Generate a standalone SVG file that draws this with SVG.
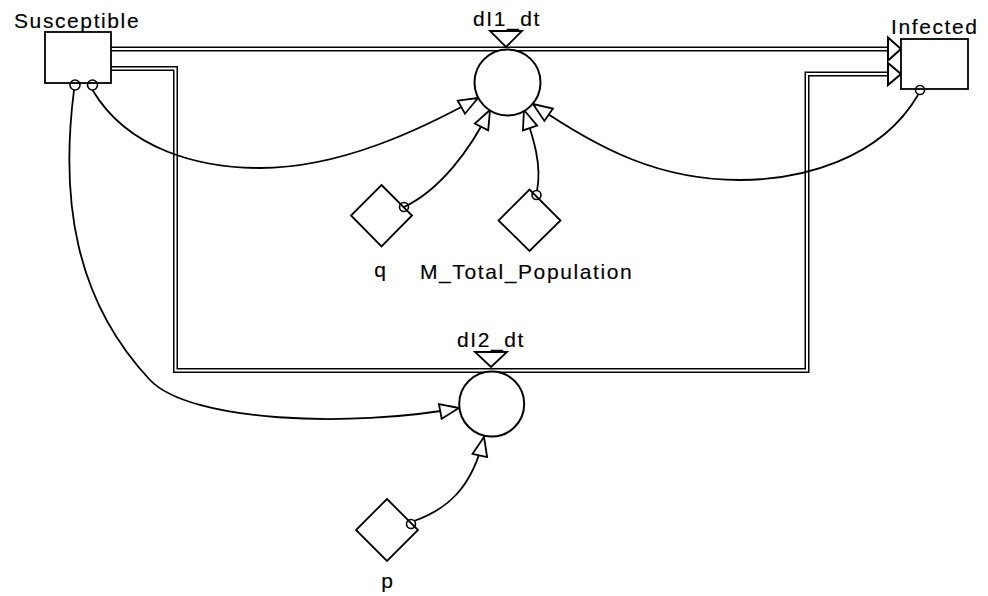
<svg xmlns="http://www.w3.org/2000/svg" width="988" height="596" viewBox="0 0 988 596">
  <defs>
    <style>
      text { font-family: "Liberation Sans", Arial, sans-serif; font-size: 21px; letter-spacing: 1.6px; fill: #000; stroke: #000; stroke-width: 0.15; }
      .box { fill: #fff; stroke: #000; stroke-width: 1.8; }
      .valve { fill: #fff; stroke: #000; stroke-width: 2; }
      .aux { fill: #fff; stroke: #000; stroke-width: 1.8; }
      .pipe-out { fill: none; stroke: #000; stroke-width: 5; stroke-linejoin: miter; }
      .pipe-in { fill: none; stroke: #fff; stroke-width: 2; stroke-linejoin: miter; }
      .pipe-head { fill: #fff; stroke: #000; stroke-width: 2; stroke-linejoin: miter; }
      .link { fill: none; stroke: #000; stroke-width: 1.8; marker-end: url(#open-arrow); }
      .tap { fill: none; stroke: #000; stroke-width: 1.6; }
    </style>
    <marker id="open-arrow" markerUnits="userSpaceOnUse" markerWidth="26" markerHeight="20" viewBox="-22 -10 24 20" refX="0" refY="0" orient="auto">
      <path d="M0,0 L-19,-7.5 L-19,7.5 Z" fill="#fff" stroke="#000" stroke-width="1.8" stroke-linejoin="miter"/>
    </marker>
  </defs>

  <!-- flow pipes -->
  <g id="flows">
    <path class="pipe-out" d="M111,49 H889"/>
    <path class="pipe-in" d="M111,49 H889"/>
    <path class="pipe-out" d="M111,68.5 H175.5 V370.5 H807 V74 H889"/>
    <path class="pipe-in" d="M111,68.5 H175.5 V370.5 H807 V74 H889"/>
    <polygon class="pipe-head" points="888,37.5 901,49 888,60.5"/>
    <polygon class="pipe-head" points="888,63 901,74 888,85"/>
  </g>

  <!-- information links -->
  <g id="connectors">
    <path class="link" d="M92.5,90 C128,150 200,168 260,168 C340,168 420,130 478,98"/>
    <path class="link" d="M74,90 C60,200 75,300 150,380 C190,422 350,428 459,408"/>
    <path class="link" d="M404,207 C440,190 470,150 490,110"/>
    <path class="link" d="M537,191 C542,165 534,140 524,110"/>
    <path class="link" d="M918,95 C880,160 800,180 740,180 C660,180 600,150 533,104"/>
    <path class="link" d="M414,521 C445,510 472,490 484,437"/>
  </g>

  <g id="Susceptible">
    <rect class="box" x="45" y="32" width="66" height="51"/>
    <circle class="tap" cx="75" cy="85" r="5"/>
    <circle class="tap" cx="92.5" cy="85" r="5"/>
    <text x="14" y="28">Susceptible</text>
  </g>

  <g id="Infected">
    <rect class="box" x="901" y="39" width="67" height="50"/>
    <circle class="tap" cx="920" cy="90" r="4.5"/>
    <text x="891" y="34">Infected</text>
  </g>

  <g id="dI1_dt">
    <circle class="valve" cx="507.5" cy="82.5" r="33"/>
    <polygon class="aux" points="490,31 522,31 506,47"/>
    <text x="507" y="26" text-anchor="middle">dI1_dt</text>
  </g>

  <g id="dI2_dt">
    <circle class="valve" cx="491.7" cy="404" r="32.5"/>
    <polygon class="aux" points="475,352 507,352 491,367"/>
    <text x="491" y="347" text-anchor="middle">dI2_dt</text>
  </g>

  <g id="q">
    <polygon class="aux" points="381.5,185 412,215.5 381.5,246.5 351,215.5"/>
    <circle class="tap" cx="404" cy="207" r="4.5"/>
    <text x="381" y="277" text-anchor="middle">q</text>
  </g>

  <g id="M_Total_Population">
    <polygon class="aux" points="529.5,189.5 560.5,220.5 529.5,251 498.5,220.5"/>
    <circle class="tap" cx="536.5" cy="195" r="4.5"/>
    <text x="420" y="279">M_Total_Population</text>
  </g>

  <g id="p">
    <polygon class="aux" points="387,499 418,530 387,561 356,530"/>
    <circle class="tap" cx="411" cy="524" r="4.5"/>
    <text x="388" y="588" text-anchor="middle">p</text>
  </g>
</svg>
